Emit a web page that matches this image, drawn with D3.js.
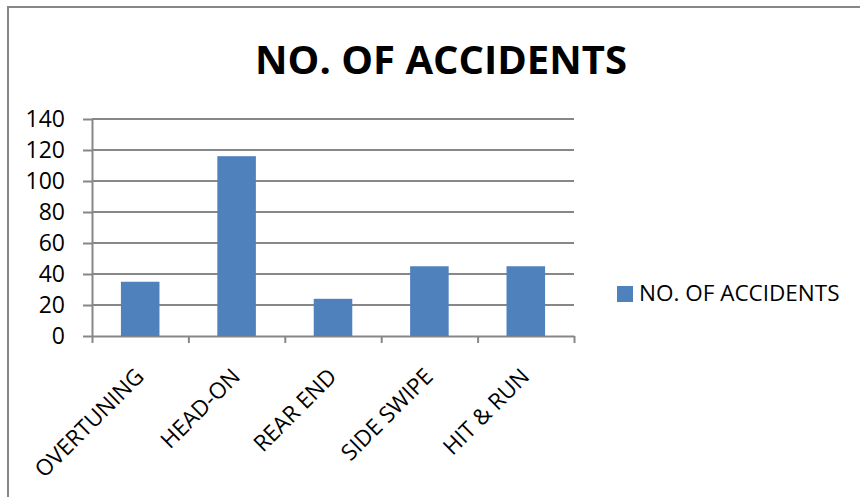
<!DOCTYPE html>
<html>
<head>
<meta charset="utf-8">
<script src="https://cdn.jsdelivr.net/npm/d3@7"></script>
<style>
  body { margin: 0; background: #fff; }
  text { font-family: "Open Sans", sans-serif; fill: #000; }
  .yaxis .domain, .xaxis .domain { stroke: #878787; stroke-width: 2; }
  .yaxis .tick line, .xaxis .tick line { stroke: #878787; stroke-width: 2; }
  .grid line { stroke: #878787; stroke-width: 2; }
</style>
</head>
<body>
<svg class="chart" width="860" height="497"></svg>
<script>
var categories = ["OVERTUNING", "HEAD-ON", "REAR END", "SIDE SWIPE", "HIT & RUN"];
var accidents = [35, 116, 24, 45, 45];
var yTicks = [0, 20, 40, 60, 80, 100, 120, 140];
var seriesName = "NO. OF ACCIDENTS";

var margin = {top: 119, left: 92},
    width = 574 - 92,
    height = 336 - 119;

var svg = d3.select(".chart");

// outer frame (only left and top edges show)
svg.append("path")
    .attr("d", "M8,497V7H860")
    .attr("fill", "none")
    .attr("stroke", "#878787")
    .attr("stroke-width", 2);

svg.append("text")
    .attr("x", 441)
    .attr("y", 74)
    .attr("text-anchor", "middle")
    .style("font-weight", "bold")
    .style("font-size", "40px")
    .text(seriesName);

var g = svg.append("g")
    .attr("transform", "translate(" + margin.left + "," + margin.top + ")");

var x = d3.scaleBand()
    .domain(categories)
    .range([0, width])
    .paddingInner(0.6)
    .paddingOuter(0.3);

var y = d3.scaleLinear()
    .domain([0, 140])
    .range([height, 0]);

g.append("g")
    .attr("class", "grid")
  .selectAll("line")
    .data(yTicks.slice(1))
  .enter().append("line")
    .attr("x1", 0)
    .attr("x2", width)
    .attr("y1", function(d) { return y(d); })
    .attr("y2", function(d) { return y(d); });

var yAxis = d3.axisLeft(y)
    .tickValues(yTicks)
    .tickSize(9)
    .tickSizeOuter(0)
    .tickPadding(18);

g.append("g")
    .attr("class", "yaxis")
    .call(yAxis)
    .selectAll("text")
    .style("font-size", "23px");

// x axis: ticks sit on band boundaries, like Excel
var xBound = d3.scaleLinear().domain([0, categories.length]).range([0, width]);
var xAxis = d3.axisBottom(xBound)
    .tickValues(d3.range(categories.length + 1))
    .tickSize(7)
    .tickSizeOuter(0)
    .tickFormat("");

g.append("g")
    .attr("class", "xaxis")
    .attr("transform", "translate(0," + height + ")")
    .call(xAxis);

g.selectAll(".bar")
    .data(accidents)
  .enter().append("rect")
    .attr("class", "bar")
    .attr("x", function(d, i) { return x(categories[i]); })
    .attr("width", x.bandwidth())
    .attr("y", function(d) { return y(d); })
    .attr("height", function(d) { return height - y(d); })
    .attr("fill", "#4f81bd");

g.selectAll(".xlabel")
    .data(categories)
  .enter().append("text")
    .attr("class", "xlabel")
    .attr("text-anchor", "end")
    .style("font-size", "22.5px")
    .attr("transform", function(d) {
      return "translate(" + (x(d) + x.bandwidth() / 2 + 5) + "," + (height + 42) + ") rotate(-45)";
    })
    .text(function(d) { return d; });

// legend
var legend = svg.append("g")
    .attr("transform", "translate(617,286)");

legend.append("rect")
    .attr("width", 16)
    .attr("height", 16)
    .attr("fill", "#4f81bd");

legend.append("text")
    .attr("x", 22)
    .attr("y", 15)
    .style("font-size", "22.5px")
    .text(seriesName);
</script>
</body>
</html>
